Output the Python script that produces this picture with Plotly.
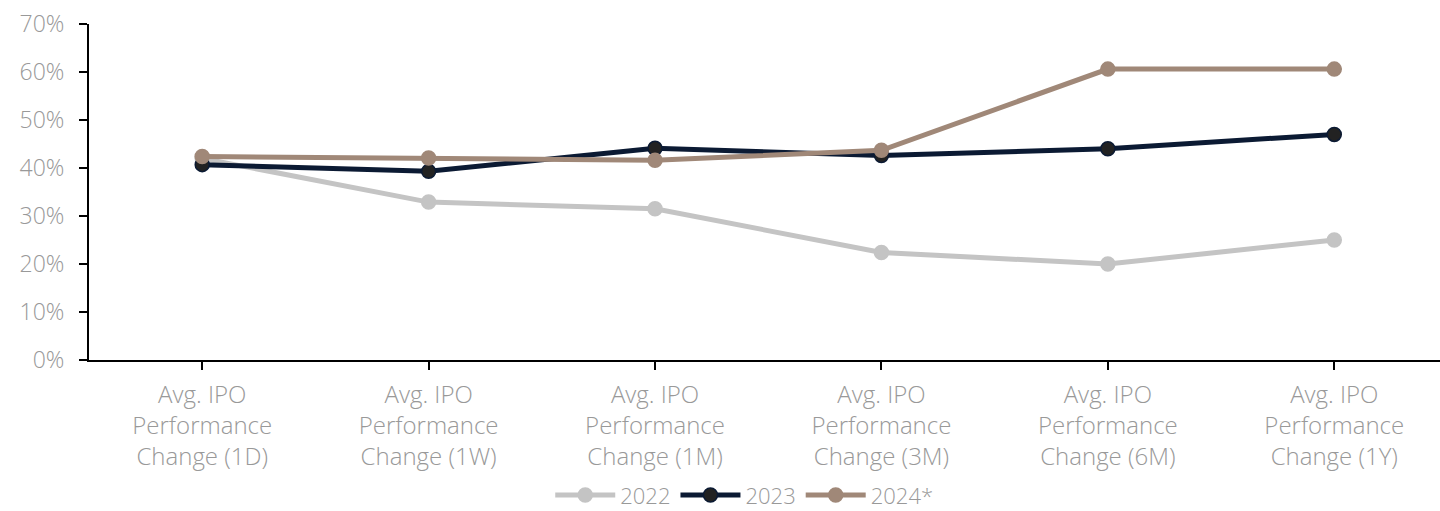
import plotly.graph_objects as go

categories = [
    "Avg. IPO<br>Performance<br>Change (1D)",
    "Avg. IPO<br>Performance<br>Change (1W)",
    "Avg. IPO<br>Performance<br>Change (1M)",
    "Avg. IPO<br>Performance<br>Change (3M)",
    "Avg. IPO<br>Performance<br>Change (6M)",
    "Avg. IPO<br>Performance<br>Change (1Y)",
]
perf_2022 = [0.420, 0.329, 0.315, 0.224, 0.200, 0.250]
perf_2023 = [0.407, 0.393, 0.441, 0.426, 0.440, 0.470]
perf_2024 = [0.424, 0.421, 0.416, 0.437, 0.606, 0.606]

series = [
    ("2022", perf_2022, "#c4c4c4", "#c4c4c4", "#c4c4c4"),
    ("2023", perf_2023, "#0b1a33", "#222222", "#0b1a33"),
    ("2024*", perf_2024, "#a08878", "#a08878", "#a08878"),
]

fig = go.Figure()
for name, vals, line_c, mark_c, mark_line in series:
    fig.add_trace(go.Scatter(
        x=list(range(len(categories))), y=vals, name=name,
        mode="lines+markers",
        line=dict(color=line_c, width=5),
        marker=dict(size=14, color=mark_c, line=dict(color=mark_line, width=1.5)),
    ))

font_family = "Open Sans, sans-serif"
label_font = dict(size=24, color="#999999", family=font_family, weight=300)
fig.update_layout(
    width=1440, height=511,
    margin=dict(l=89, r=0, t=24, b=151, autoexpand=False),
    paper_bgcolor="white", plot_bgcolor="white",
    font=label_font,
    showlegend=True,
    legend=dict(orientation="h", x=0.485, xanchor="center", y=-0.34, yanchor="top",
                font=dict(size=22, color="#999999", family=font_family, weight=300),
                itemwidth=60, tracegroupgap=0, traceorder="normal"),
    xaxis=dict(
        tickmode="array", tickvals=list(range(len(categories))), ticktext=categories,
        range=[-0.5, 5.467], showgrid=False, zeroline=False, automargin=False,
        showline=True, linecolor="black", linewidth=2,
        ticks="outside", tickson="boundaries", ticklen=8, tickwidth=2, tickcolor="black",
        ticklabelstandoff=4,
        tickfont=label_font,
    ),
    yaxis=dict(
        range=[0, 0.7], dtick=0.1, tickformat=".0%", showgrid=False, zeroline=False,
        automargin=False,
        showline=True, linecolor="black", linewidth=2,
        ticks="outside", ticklen=8, tickwidth=2, tickcolor="black",
        ticklabelstandoff=10,
        tickfont=dict(size=23, color="#999999", family=font_family, weight=300),
    ),
)

fig.write_html("out.html")
